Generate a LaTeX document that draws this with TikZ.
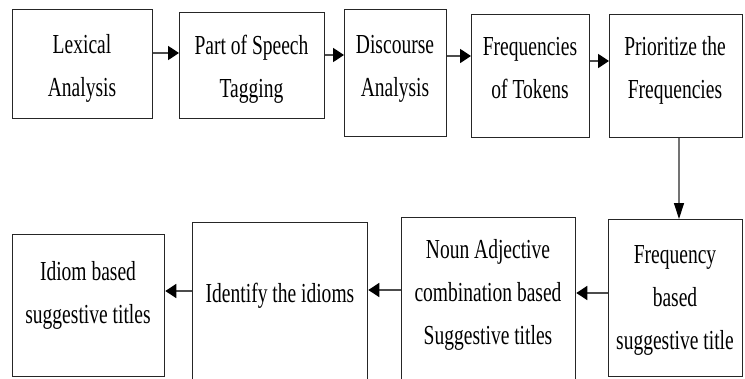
\documentclass[tikz,border=0pt]{standalone}
\usepackage{fontspec}
\setmainfont{Liberation Serif}[FakeStretch=0.71]
\usetikzlibrary{arrows.meta}
\newcommand\mlines[1]{\begin{tabular}[t]{@{}c@{}}#1\end{tabular}}
\begin{document}
\begin{tikzpicture}[x=1pt,y=-1pt,
  box/.style={draw=black!85, line width=1.3pt, inner sep=0pt, anchor=north west},
  txt/.style={font=\fontsize{27.5}{43}\selectfont, inner sep=0pt, anchor=base},
  arr/.style={draw=black!70, line width=1.8pt, -{Triangle[length=11pt,width=14pt,color=black]}},
  varr/.style={draw=black!55, line width=1.2pt, -{Triangle[length=16pt,width=10pt,color=black]}}]
\useasboundingbox (0,0) rectangle (745,378);
% boxes
\node[box, minimum width=140pt, minimum height=109pt] (lex)   at (12,9)   {};
\node[box, minimum width=145pt, minimum height=106pt] (pos)   at (179,12) {};
\node[box, minimum width=102pt, minimum height=127pt] (disc)  at (344,9)  {};
\node[box, minimum width=118pt, minimum height=123pt] (freq)  at (471,14) {};
\node[box, minimum width=133pt, minimum height=123pt] (prior) at (609,14) {};
\node[box, minimum width=134pt, minimum height=157pt] (fbst)  at (608,219) {};
\node[box, minimum width=174pt, minimum height=180pt] (noun)  at (401,217) {};
\node[box, minimum width=175pt, minimum height=175pt] (ident) at (192,222) {};
\node[box, minimum width=152pt, minimum height=142pt] (idiom) at (12,234) {};
% texts
\node[txt] (lext)   at (82,53)    {\mlines{Lexical\\Analysis}};
\node[txt] (post)   at (251.5,54) {\mlines{Part of Speech\\Tagging}};
\node[txt] (disct)  at (395,53)   {\mlines{Discourse\\Analysis}};
\node[txt] (freqt)  at (530,55)   {\mlines{Frequencies\\of Tokens}};
\node[txt] (priort) at (675,55)   {\mlines{Prioritize the\\Frequencies}};
\node[txt] (fbstt)  at (675,263)  {\mlines{Frequency\\based\\suggestive title}};
\node[txt] (nount)  at (488,258)  {\mlines{Noun Adjective\\combination based\\Suggestive titles}};
\node[txt] (identt) at (280,302)  {Identify the idioms};
\node[txt] (idiomt) at (88,280)   {\mlines{Idiom based\\suggestive titles}};
% connectors
\draw[arr] (lex.east |- 0,53) -- (pos.west |- 0,53);
\draw[arr] (pos.east |- 0,55) -- (disc.west |- 0,55);
\draw[arr] (disc.east |- 0,56) -- (freq.west |- 0,56);
\draw[arr] (freq.east |- 0,61) -- (prior.west |- 0,61);
\draw[varr] (prior.south -| 679,0) -- (fbst.north -| 679,0);
\draw[arr] (fbst.west |- 0,293) -- (noun.east |- 0,293);
\draw[arr] (noun.west |- 0,290) -- (ident.east |- 0,290);
\draw[arr] (ident.west |- 0,291) -- (idiom.east |- 0,291);
\end{tikzpicture}
\end{document}
